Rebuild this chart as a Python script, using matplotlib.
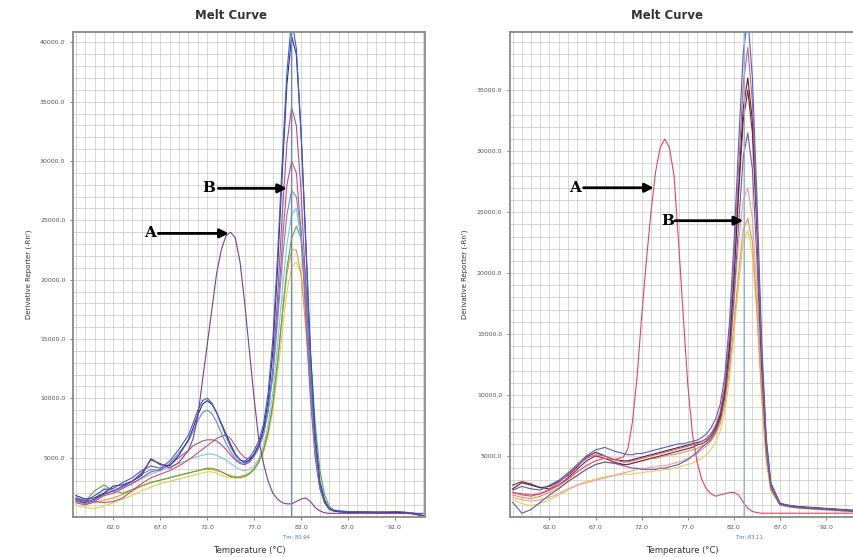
import numpy as np
import matplotlib
matplotlib.use("Agg")
from matplotlib import pyplot as plt

# temperature points (deg C), shared by every curve
temps = [58, 59, 60, 61, 62, 63, 64, 65, 66, 67, 68, 69, 70,
         70.5, 71, 71.5, 72, 72.5, 73, 73.5, 74, 74.5, 75, 75.5, 76, 76.5, 77, 77.5, 78, 78.5,
         79, 79.5, 80, 80.5, 81, 81.5, 82, 82.5, 83, 83.5, 84, 84.5, 85, 85.5, 86,
         87, 88, 89, 90, 91, 92, 93, 94, 95]

# derivative reporter values, in thousands
# left panel
left_blue = [1.6, 1.3, 1.8, 2.3, 2.4, 2.9, 3.3, 3.9, 4.3, 4.1, 4.7, 5.7, 6.9,
             7.9, 9.0, 9.8, 10.0, 9.6, 8.8, 7.8, 6.8, 5.9, 5.2, 4.8, 4.7, 5.0, 5.6, 6.4, 7.8, 10.5,
             15.0, 22.0, 30.0, 37.5, 42.0, 39.5, 32.5, 23.0, 13.5, 6.5, 2.8, 1.3, 0.7, 0.55, 0.5,
             0.45, 0.45, 0.4, 0.4, 0.4, 0.45, 0.4, 0.3, 0.1]
left_navy = [1.8, 1.5, 1.6, 2.0, 2.6, 2.7, 3.0, 3.5, 4.9, 4.4, 4.3, 5.2, 6.5,
             7.5, 8.6, 9.5, 9.8, 9.5, 8.8, 7.9, 7.0, 6.1, 5.3, 4.8, 4.6, 4.8, 5.3, 6.1, 7.4, 9.8,
             14.0, 21.0, 29.0, 36.5, 40.5, 39.0, 32.5, 23.5, 14.0, 7.0, 3.0, 1.4, 0.7, 0.5, 0.45,
             0.4, 0.4, 0.4, 0.35, 0.35, 0.4, 0.35, 0.25, 0.1]
left_magenta = [1.2, 1.0, 1.3, 1.8, 2.0, 2.4, 2.8, 3.3, 3.8, 4.0, 4.4, 5.0, 5.6,
                6.0, 6.2, 6.4, 6.5, 6.5, 6.4, 6.1, 5.7, 5.2, 4.8, 4.5, 4.4, 4.6, 5.1, 5.8, 7.0, 9.0,
                12.5, 18.5, 25.5, 31.5, 34.5, 33.0, 27.5, 19.5, 11.5, 5.5, 2.5, 1.2, 0.65, 0.5, 0.45,
                0.4, 0.4, 0.4, 0.35, 0.35, 0.35, 0.3, 0.25, 0.1]
left_steel = [1.4, 1.1, 1.4, 2.0, 2.2, 2.5, 3.0, 3.6, 4.0, 3.9, 4.5, 5.4, 6.4,
              7.2, 8.1, 8.8, 9.0, 8.7, 8.0, 7.1, 6.2, 5.5, 4.9, 4.6, 4.5, 4.7, 5.2, 5.9, 7.0, 9.0,
              12.0, 16.5, 21.5, 25.5, 27.5, 27.0, 24.0, 18.0, 11.0, 5.5, 2.6, 1.3, 0.7, 0.5, 0.45,
              0.4, 0.4, 0.4, 0.4, 0.4, 0.4, 0.35, 0.3, 0.1]
left_cyan = [1.3, 1.2, 1.5, 2.4, 2.2, 2.5, 2.8, 3.2, 3.6, 3.9, 4.2, 4.5, 4.8,
             5.0, 5.1, 5.2, 5.3, 5.3, 5.2, 5.0, 4.8, 4.5, 4.2, 4.0, 3.9, 4.0, 4.3, 4.9, 6.0, 7.8,
             10.5, 14.5, 19.0, 23.0, 25.5, 26.0, 23.5, 18.5, 12.0, 6.3, 3.0, 1.5, 0.8, 0.55, 0.45,
             0.4, 0.4, 0.4, 0.4, 0.4, 0.4, 0.35, 0.3, 0.1]
left_green = [1.5, 1.3, 2.2, 2.7, 2.2, 2.0, 2.3, 2.6, 2.9, 3.1, 3.3, 3.5, 3.7,
              3.8, 3.9, 4.0, 4.1, 4.1, 4.0, 3.8, 3.6, 3.4, 3.3, 3.3, 3.4, 3.6, 4.0, 4.6, 5.6, 7.2,
              9.5, 13.0, 17.0, 21.0, 23.5, 24.5, 23.5, 20.0, 14.0, 8.0, 4.0, 1.9, 0.9, 0.6, 0.5,
              0.45, 0.4, 0.4, 0.4, 0.4, 0.4, 0.35, 0.3, 0.1]
left_yellow = [1.0, 0.8, 0.7, 0.9, 1.2, 1.5, 1.8, 2.2, 2.5, 2.8, 3.0, 3.2, 3.4,
               3.5, 3.6, 3.7, 3.8, 3.8, 3.7, 3.5, 3.4, 3.3, 3.3, 3.4, 3.5, 3.7, 4.0, 4.6, 5.5, 6.8,
               9.0, 12.0, 15.5, 19.0, 21.0, 21.5, 20.5, 17.0, 11.5, 6.3, 3.1, 1.5, 0.8, 0.55, 0.45,
               0.45, 0.45, 0.45, 0.45, 0.4, 0.4, 0.4, 0.35, 0.15]
left_orange = [1.3, 1.1, 1.2, 1.4, 1.6, 1.9, 2.2, 2.6, 2.9, 3.1, 3.3, 3.5, 3.7,
               3.8, 3.9, 4.0, 4.0, 4.0, 3.9, 3.8, 3.6, 3.5, 3.4, 3.4, 3.5, 3.7, 4.1, 4.7, 5.7, 7.2,
               9.5, 13.0, 17.0, 20.5, 22.5, 22.5, 20.5, 16.0, 10.5, 5.5, 2.7, 1.3, 0.7, 0.5, 0.45,
               0.45, 0.45, 0.45, 0.4, 0.4, 0.4, 0.4, 0.3, 0.15]
left_red = [1.6, 1.4, 1.3, 1.2, 1.3, 1.6, 2.2, 2.8, 3.3, 3.6, 3.9, 4.3, 4.8,
            5.1, 5.4, 5.7, 6.0, 6.3, 6.6, 6.8, 6.9, 6.6, 6.0, 5.4, 5.0, 4.9, 5.2, 5.9, 7.0, 9.0,
            12.0, 17.0, 23.0, 28.0, 30.0, 29.0, 24.0, 17.0, 10.0, 5.0, 2.4, 1.2, 0.65, 0.5, 0.45,
            0.4, 0.4, 0.4, 0.4, 0.4, 0.4, 0.35, 0.3, 0.1]
left_peak_a = [1.4, 1.2, 1.5, 1.9, 2.2, 2.6, 3.0, 3.7, 4.8, 4.5, 4.1, 4.6, 5.6,
               6.6, 8.5, 11.5, 14.5, 17.5, 20.5, 22.5, 23.7, 24.0, 23.5, 21.5, 18.0, 14.0, 10.0, 6.5, 4.5, 3.0,
               2.0, 1.5, 1.2, 1.1, 1.1, 1.3, 1.5, 1.6, 1.3, 0.8, 0.5, 0.35, 0.3, 0.3, 0.3,
               0.3, 0.3, 0.3, 0.3, 0.3, 0.3, 0.3, 0.3, 0.3]

# right panel
right_blue = [2.2, 2.5, 2.3, 2.2, 2.6, 3.0, 3.6, 4.3, 5.0, 5.5, 5.7, 5.4, 5.2,
              5.1, 5.1, 5.2, 5.2, 5.3, 5.4, 5.5, 5.6, 5.7, 5.8, 5.9, 6.0, 6.0, 6.1, 6.2, 6.3, 6.5,
              6.8, 7.3, 8.0, 9.2, 11.5, 15.8, 22.5, 30.5, 38.0, 41.0, 36.0, 26.0, 14.5, 6.5, 2.8,
              1.1, 0.9, 0.8, 0.75, 0.7, 0.65, 0.6, 0.55, 0.5]
right_pink = [2.0, 1.8, 1.7, 1.9, 2.3, 2.8, 3.5, 4.2, 4.8, 5.1, 5.0, 4.7, 4.5,
              4.5, 4.6, 4.7, 4.8, 4.9, 5.0, 5.1, 5.2, 5.3, 5.4, 5.5, 5.6, 5.7, 5.8, 5.9, 6.0, 6.2,
              6.4, 6.8, 7.5, 8.6, 10.8, 14.8, 21.0, 28.5, 35.5, 38.5, 34.0, 24.5, 13.5, 6.0, 2.6,
              1.1, 0.9, 0.8, 0.75, 0.7, 0.65, 0.6, 0.55, 0.5]
right_brown = [2.3, 2.8, 2.6, 2.4, 2.5, 2.9, 3.4, 4.1, 4.9, 5.3, 5.0, 4.7, 4.6,
               4.6, 4.7, 4.8, 4.9, 5.0, 5.1, 5.2, 5.3, 5.4, 5.5, 5.6, 5.7, 5.8, 5.9, 6.0, 6.1, 6.2,
               6.4, 6.8, 7.4, 8.4, 10.5, 14.2, 20.0, 27.0, 33.5, 36.0, 32.5, 24.0, 13.5, 6.2, 2.7,
               1.1, 0.95, 0.85, 0.8, 0.75, 0.7, 0.65, 0.6, 0.55]
right_darkred = [2.6, 2.9, 2.7, 2.4, 2.3, 2.6, 3.2, 3.9, 4.6, 5.0, 4.8, 4.5, 4.3,
                 4.3, 4.4, 4.5, 4.6, 4.7, 4.8, 4.9, 5.0, 5.1, 5.2, 5.3, 5.4, 5.5, 5.6, 5.7, 5.9, 6.0,
                 6.2, 6.6, 7.2, 8.2, 10.2, 13.8, 19.5, 26.5, 32.5, 35.0, 31.5, 23.5, 13.0, 6.0, 2.6,
                 1.1, 0.9, 0.8, 0.75, 0.7, 0.65, 0.6, 0.55, 0.5]
right_purple = [1.2, 0.3, 0.6, 1.2, 1.8, 2.3, 2.9, 3.4, 3.9, 4.3, 4.5, 4.4, 4.2,
                4.1, 4.0, 4.0, 3.9, 3.9, 3.9, 3.9, 4.0, 4.0, 4.1, 4.2, 4.3, 4.5, 4.7, 5.0, 5.3, 5.7,
                6.0, 6.4, 7.0, 8.0, 9.8, 13.0, 18.0, 24.0, 29.5, 31.5, 28.5, 21.0, 12.0, 5.5, 2.4,
                1.0, 0.85, 0.75, 0.7, 0.65, 0.6, 0.55, 0.5, 0.45]
right_orange = [1.8, 1.6, 1.5, 1.7, 2.0, 2.4, 2.9, 3.4, 3.9, 4.3, 4.5, 4.4, 4.3,
                4.3, 4.4, 4.5, 4.6, 4.7, 4.8, 4.8, 4.9, 5.0, 5.1, 5.1, 5.2, 5.3, 5.4, 5.5, 5.6, 5.8,
                6.0, 6.3, 6.8, 7.6, 9.2, 12.0, 15.8, 20.0, 23.5, 24.5, 22.5, 17.0, 10.0, 4.8, 2.2,
                1.0, 0.85, 0.75, 0.7, 0.65, 0.6, 0.55, 0.5, 0.45]
right_yellow = [1.4, 1.1, 0.9, 1.1, 1.4, 1.8, 2.2, 2.6, 2.9, 3.1, 3.3, 3.4, 3.5,
                3.5, 3.5, 3.6, 3.6, 3.7, 3.7, 3.8, 3.8, 3.9, 3.9, 4.0, 4.1, 4.2, 4.3, 4.4, 4.6, 4.8,
                5.1, 5.5, 6.1, 7.0, 8.6, 11.2, 15.0, 19.0, 22.5, 23.5, 21.5, 16.5, 9.8, 4.6, 2.1,
                0.95, 0.8, 0.7, 0.65, 0.6, 0.55, 0.5, 0.45, 0.4]
right_lightpink = [1.6, 1.4, 1.3, 1.4, 1.6, 1.9, 2.3, 2.6, 2.8, 3.0, 3.2, 3.4, 3.6,
                   3.7, 3.8, 3.9, 4.0, 4.0, 4.1, 4.1, 4.2, 4.2, 4.3, 4.4, 4.5, 4.6, 4.8, 5.0, 5.2, 5.5,
                   5.8, 6.2, 6.8, 7.8, 9.5, 12.8, 17.5, 22.5, 26.0, 27.0, 24.5, 18.5, 10.8, 5.0, 2.3,
                   1.0, 0.85, 0.75, 0.7, 0.65, 0.6, 0.55, 0.5, 0.45]
right_peak_a = [2.0, 1.9, 1.8, 1.9, 2.2, 2.6, 3.1, 3.7, 4.2, 4.6, 4.8, 4.7, 4.9,
                5.6, 7.8, 11.5, 16.5, 21.0, 25.0, 28.3, 30.3, 31.0, 30.3, 28.0, 22.5, 16.5, 10.8, 6.8, 4.5, 3.1,
                2.3, 1.9, 1.7, 1.8, 1.9, 2.0, 2.0, 1.8, 1.2, 0.7, 0.45, 0.35, 0.3, 0.3, 0.3,
                0.3, 0.3, 0.3, 0.3, 0.3, 0.3, 0.3, 0.3, 0.3]

left_series = [(left_yellow, "#e2d24a"), (left_orange, "#e89a3a"), (left_green, "#5aa845"),
               (left_cyan, "#7cc8e0"), (left_red, "#d0506a"), (left_magenta, "#b04a9a"),
               (left_steel, "#6688dd"), (left_navy, "#2a2f8a"), (left_blue, "#3c5ccf"),
               (left_peak_a, "#7a3f8f")]
right_series = [(right_yellow, "#e6cf55"), (right_lightpink, "#eea0a0"), (right_orange, "#e39a40"),
                (right_purple, "#6a5aa8"), (right_darkred, "#8e2035"), (right_brown, "#4e2a18"),
                (right_pink, "#cc5c99"), (right_blue, "#4a62c8"), (right_peak_a, "#e2456a")]

x_ticks = [62, 67, 72, 77, 82, 87, 92]
left_yticks = [5000, 10000, 15000, 20000, 25000, 30000, 35000, 40000]
right_yticks = [5000, 10000, 15000, 20000, 25000, 30000, 35000]
left_tm = 80.94
right_tm = 83.11

fig = plt.figure(figsize=(8.54, 5.57), dpi=100)
ax1 = fig.add_axes([0.0855, 0.072, 0.412, 0.871])
ax2 = fig.add_axes([0.597, 0.072, 0.405, 0.871])


def setup(ax, series, yticks, ytop, tm, tmcol):
    t = np.array(temps)
    for vals, col in series:
        ax.plot(t, np.array(vals) * 1000, color=col, lw=0.8)
    ax.set_xlim(57.7, 95.2)
    ax.set_ylim(0, ytop)
    ax.set_xticks(x_ticks)
    ax.set_xticklabels(["%.1f" % v for v in x_ticks])
    ax.set_yticks(yticks)
    ax.set_yticklabels(["%.1f" % v for v in yticks])
    ax.set_xticks(np.arange(58, 96, 1), minor=True)
    ax.set_yticks(np.arange(0, ytop, 1000), minor=True)
    ax.grid(which="both", color="#cdcdcd", lw=0.55)
    ax.set_axisbelow(True)
    ax.tick_params(labelsize=4.5, colors="#555555", length=2, width=0.5)
    ax.tick_params(which="minor", length=0)
    for s in ax.spines.values():
        s.set_color("#8a8a8a")
        s.set_linewidth(1.3)
    ax.axvline(tm, color=tmcol, lw=0.8)
    ax.text(tm + 0.6, -0.037, "Tm: %.2f" % tm, transform=ax.get_xaxis_transform(),
            ha="center", va="top", fontsize=3.8, color="#4a78c0")
    ax.set_xlabel("Temperature (\u00b0C)", fontsize=6, color="#333333", labelpad=12)
    ax.set_ylabel("Derivative Reporter (-Rn')", fontsize=5, color="#333333", labelpad=6)


setup(ax1, left_series, left_yticks, 40900, left_tm, "#7088b0")
setup(ax2, right_series, right_yticks, 39800, right_tm, "#8fb4e0")

arrow = dict(arrowstyle="-|>", color="black", lw=2, mutation_scale=13, shrinkA=0, shrinkB=0)
lab = dict(fontsize=11, fontweight="bold", family="DejaVu Serif", va="center", ha="right")
ax1.annotate("", xy=(74.3, 23900), xytext=(66.8, 23900), arrowprops=arrow)
ax1.text(66.5, 23900, "A", **lab)
ax1.annotate("", xy=(80.5, 27700), xytext=(73.2, 27700), arrowprops=arrow)
ax1.text(72.9, 27700, "B", **lab)
ax2.annotate("", xy=(73.3, 27000), xytext=(65.7, 27000), arrowprops=arrow)
ax2.text(65.4, 27000, "A", **lab)
ax2.annotate("", xy=(83.0, 24300), xytext=(75.6, 24300), arrowprops=arrow)
ax2.text(75.5, 24300, "B", **lab)

fig.text(0.27, 0.972, "Melt Curve", ha="center", va="center", fontsize=8.5, fontweight="bold", color="#333333")
fig.text(0.781, 0.972, "Melt Curve", ha="center", va="center", fontsize=8.5, fontweight="bold", color="#333333")

fig.savefig("out.png", dpi=100)
